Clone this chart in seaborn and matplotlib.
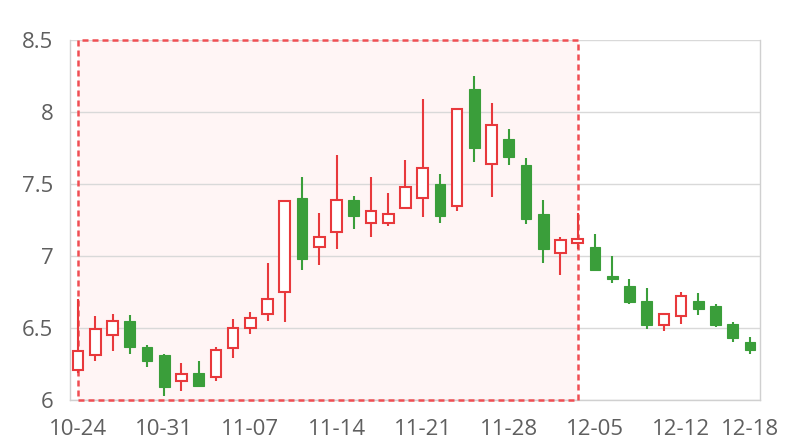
import numpy as np
import seaborn as sns
import matplotlib.pyplot as plt

# trading days (category axis)
dates = ["10-24", "10-25", "10-26", "10-27", "10-28",
         "10-31", "11-01", "11-02", "11-03", "11-04",
         "11-07", "11-08", "11-09", "11-10", "11-11",
         "11-14", "11-15", "11-16", "11-17", "11-18",
         "11-21", "11-22", "11-23", "11-24", "11-25",
         "11-28", "11-29", "11-30", "12-01", "12-02",
         "12-05", "12-06", "12-07", "12-08", "12-09",
         "12-12", "12-13", "12-14", "12-15", "12-18"]

opens = [6.21, 6.31, 6.45, 6.55, 6.37, 6.31, 6.13, 6.19, 6.16, 6.36,
         6.50, 6.60, 6.75, 7.40, 7.06, 7.17, 7.39, 7.23, 7.23, 7.33,
         7.40, 7.50, 7.35, 8.16, 7.64, 7.81, 7.63, 7.29, 7.02, 7.09,
         7.06, 6.86, 6.79, 6.69, 6.52, 6.58, 6.69, 6.65, 6.53, 6.40]
closes = [6.34, 6.49, 6.55, 6.37, 6.27, 6.09, 6.18, 6.10, 6.35, 6.50,
          6.57, 6.70, 7.38, 6.98, 7.13, 7.39, 7.28, 7.31, 7.29, 7.48,
          7.61, 7.28, 8.02, 7.75, 7.91, 7.69, 7.26, 7.05, 7.11, 7.12,
          6.90, 6.84, 6.68, 6.52, 6.60, 6.72, 6.63, 6.52, 6.43, 6.35]
highs = [6.70, 6.58, 6.60, 6.59, 6.38, 6.32, 6.26, 6.27, 6.37, 6.56,
         6.61, 6.95, 7.39, 7.55, 7.30, 7.70, 7.42, 7.55, 7.44, 7.67,
         8.09, 7.57, 8.03, 8.25, 8.06, 7.88, 7.68, 7.39, 7.13, 7.30,
         7.15, 7.00, 6.84, 6.78, 6.60, 6.75, 6.74, 6.67, 6.54, 6.44]
lows = [6.19, 6.27, 6.34, 6.32, 6.23, 6.03, 6.06, 6.09, 6.13, 6.29,
        6.46, 6.55, 6.54, 6.90, 6.94, 7.05, 7.19, 7.13, 7.21, 7.33,
        7.27, 7.23, 7.31, 7.65, 7.41, 7.63, 7.22, 6.95, 6.87, 7.05,
        6.90, 6.81, 6.67, 6.49, 6.48, 6.53, 6.59, 6.51, 6.40, 6.32]

# highlighted window (first to last category index)
highlight_start = "10-24"
highlight_end = "12-02"

up_color = "#e8393c"
down_color = "#3a9e3a"

sns.set_theme(style="white")
plt.rcParams['font.family'] = ['Open Sans', 'DejaVu Sans']

fig = plt.figure(figsize=(8, 4.4), dpi=100)
ax = fig.add_axes([0.0875, 0.0909, 0.8625, 0.8182])

x = np.arange(len(dates))
o = np.array(opens)
c = np.array(closes)
up = c >= o
colors = np.where(up, up_color, down_color)

#Highlighted range: fill under the grid, dashed border above it
x0 = dates.index(highlight_start)
x1 = dates.index(highlight_end)
ax.axvspan(x0, x1, facecolor="#fff5f5", edgecolor="none", zorder=0.2)
ax.axvspan(x0, x1, facecolor="none", edgecolor="#f04e53",
           linestyle=(0, (2.4, 1.6)), linewidth=1.8, zorder=1.5, clip_on=False)

#Wicks
ax.vlines(x, lows, highs, colors=colors, linewidth=1.5, zorder=2)

#Bodies
bottoms = np.minimum(o, c)
heights = np.abs(c - o)
ax.bar(x[up], heights[up], bottom=bottoms[up], width=0.62, facecolor="white",
       edgecolor=up_color, linewidth=1.5, zorder=3)
ax.bar(x[~up], heights[~up], bottom=bottoms[~up], width=0.62, facecolor=down_color,
       edgecolor=down_color, linewidth=0.8, zorder=3)

ax.set_xlim(-0.47, len(dates) - 1 + 0.58)
ax.set_ylim(6, 8.5)
ax.set_yticks([6, 6.5, 7, 7.5, 8, 8.5])
ax.set_yticklabels(["6", "6.5", "7", "7.5", "8", "8.5"])

tick_idx = list(range(0, len(dates), 5)) + [len(dates) - 1]
ax.set_xticks(tick_idx)
ax.set_xticklabels([dates[i] for i in tick_idx])

ax.tick_params(axis='both', length=0, labelsize=16, labelcolor="#5f5f5f")
ax.tick_params(axis='y', pad=12)
ax.tick_params(axis='x', pad=14)

ax.grid(axis='y', color="#d9d9d9", linewidth=1)
ax.set_axisbelow(True)
for side in ['left', 'right', 'bottom']:
    ax.spines[side].set_color("#d0d0d0")
    ax.spines[side].set_linewidth(1)
    ax.spines[side].set_zorder(0.6)
ax.spines['top'].set_visible(False)

fig.savefig("out.png", dpi=100)
